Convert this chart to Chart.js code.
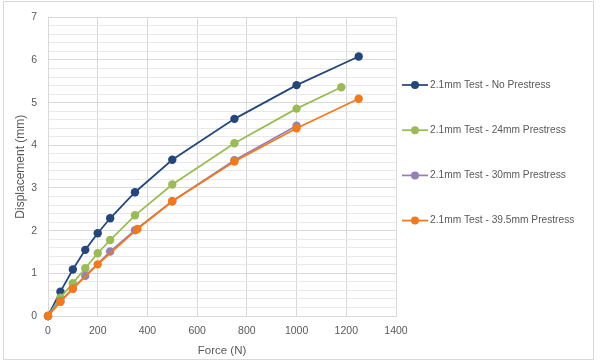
<!DOCTYPE html>
<html>
<head>
<meta charset="utf-8">
<script src="https://cdn.jsdelivr.net/npm/chart.js@4"></script>
<style>
  html, body { margin: 0; padding: 0; background: #fff; }
  #wrap { position: relative; width: 600px; height: 362px; }
</style>
</head>
<body>
<div id="wrap"><canvas id="chart" width="600" height="362"></canvas></div>
<script>
// Force (N) / displacement (mm) per test
const forceNoPre = [0, 50, 100, 150, 200, 250, 350, 500, 750, 1000, 1250];
const dispNoPre  = [0, 0.57, 1.09, 1.55, 1.94, 2.29, 2.90, 3.66, 4.62, 5.41, 6.08];

const force24 = [0, 50, 100, 150, 200, 250, 350, 500, 750, 1000, 1180];
const disp24  = [0, 0.43, 0.77, 1.12, 1.47, 1.78, 2.36, 3.08, 4.05, 4.86, 5.36];

const force30 = [0, 50, 100, 150, 250, 350, 500, 750, 1000];
const disp30  = [0, 0.35, 0.64, 0.94, 1.51, 2.01, 2.69, 3.65, 4.46];

const force395 = [0, 50, 100, 200, 360, 500, 750, 1000, 1250];
const disp395  = [0, 0.33, 0.64, 1.21, 2.04, 2.69, 3.62, 4.40, 5.09];

const seriesLabels = [
  '2.1mm Test - No Prestress',
  '2.1mm Test - 24mm Prestress',
  '2.1mm Test - 30mm Prestress',
  '2.1mm Test - 39.5mm Prestress'
];
const seriesColors = ['#25467a', '#9bbb59', '#9580b8', '#f27a1c'];

const xTicks = [0, 200, 400, 600, 800, 1000, 1200, 1400];
const yMax = 7;

const textColor = '#595959';
const fontFamily = '"Liberation Sans", Arial, sans-serif';

function toPoints(xs, ys) {
  return xs.map((x, i) => ({ x, y: ys[i] }));
}

function makeSet(i, xs, ys, order) {
  return {
    label: seriesLabels[i],
    data: toPoints(xs, ys),
    showLine: true,
    borderColor: seriesColors[i],
    backgroundColor: seriesColors[i],
    borderWidth: 1.75,
    pointRadius: 4.2,
    pointHoverRadius: 4.2,
    pointBorderWidth: 0,
    tension: 0,
    clip: false,
    order
  };
}

// legend drawn on the right like the spreadsheet one: line + dot + text
const sideLegend = {
  id: 'sideLegend',
  beforeDraw(chart) {
    const ctx = chart.ctx;
    ctx.save();
    ctx.fillStyle = '#fff';
    ctx.fillRect(0, 0, chart.width, chart.height);
    ctx.strokeStyle = '#d9d9d9';
    ctx.lineWidth = 1;
    ctx.strokeRect(3.5, 1.5, 590, 358);
    ctx.restore();
  },
  afterDraw(chart) {
    const ctx = chart.ctx;
    ctx.save();
    chart.data.datasets.forEach((ds, i) => {
      const y = 85 + i * 45.2;
      ctx.strokeStyle = ds.borderColor;
      ctx.lineWidth = 1.75;
      ctx.beginPath();
      ctx.moveTo(402, y);
      ctx.lineTo(428, y);
      ctx.stroke();
      ctx.fillStyle = ds.backgroundColor;
      ctx.beginPath();
      ctx.arc(415, y, 4, 0, Math.PI * 2);
      ctx.fill();
      ctx.fillStyle = textColor;
      ctx.font = '10.2px ' + fontFamily;
      ctx.textBaseline = 'middle';
      ctx.textAlign = 'left';
      ctx.fillText(ds.label, 430, y);
    });
    ctx.restore();
  }
};

const isWhole = v => Math.abs(v - Math.round(v)) < 1e-6;

new Chart(document.getElementById('chart'), {
  type: 'scatter',
  data: {
    datasets: [
      makeSet(0, forceNoPre, dispNoPre, 3),
      makeSet(1, force24, disp24, 2),
      makeSet(2, force30, disp30, 1),
      makeSet(3, force395, disp395, 0)
    ]
  },
  options: {
    responsive: false,
    animation: false,
    layout: { padding: { top: 17, right: 204, bottom: 0, left: 0 } },
    plugins: {
      legend: { display: false },
      tooltip: { enabled: false }
    },
    scales: {
      x: {
        type: 'linear',
        min: 0,
        max: 1400,
        afterBuildTicks: (scale) => { scale.ticks = xTicks.map(v => ({ value: v })); },
        afterFit: (scale) => { scale.height = 46; },
        ticks: {
          color: textColor,
          font: { family: fontFamily, size: 10.5 },
          padding: 9,
          maxRotation: 0,
          callback: (v) => String(v)
        },
        grid: { color: '#d9d9d9', drawTicks: false },
        border: { color: '#d9d9d9' },
        title: {
          display: true,
          text: 'Force (N)',
          color: textColor,
          font: { family: fontFamily, size: 11.5 },
          padding: { top: 0, bottom: 4 }
        }
      },
      y: {
        min: 0,
        max: yMax,
        afterFit: (scale) => { scale.width = 48; },
        ticks: {
          stepSize: 0.2,
          autoSkip: false,
          color: textColor,
          font: { family: fontFamily, size: 10.5 },
          padding: 11,
          callback: (v) => isWhole(v) ? String(Math.round(v)) : ''
        },
        grid: {
          drawTicks: false,
          color: (c) => (c.tick && isWhole(c.tick.value)) ? '#d9d9d9' : '#e9e9e9'
        },
        border: { color: '#d9d9d9' },
        title: {
          display: true,
          text: 'Displacement (mm)',
          color: textColor,
          font: { family: fontFamily, size: 12 },
          padding: { top: 13, bottom: 0 }
        }
      }
    }
  },
  plugins: [sideLegend]
});
</script>
</body>
</html>
